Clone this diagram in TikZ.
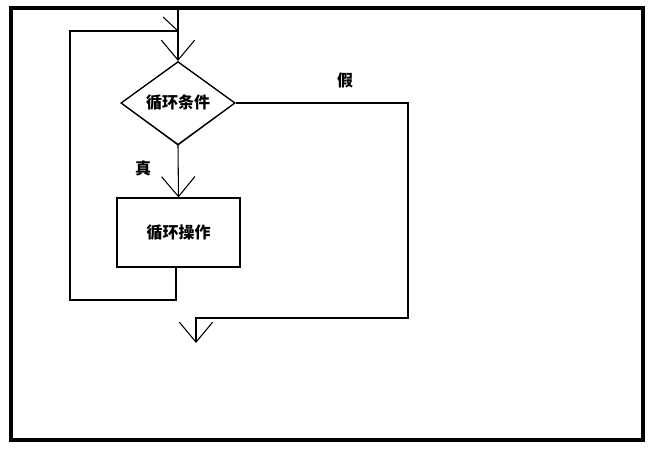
\documentclass[tikz,border=0pt]{standalone}
\usepackage{fontspec}
\setmainfont{Noto Sans CJK SC}
\usepackage{tikz}
\usetikzlibrary{shapes.geometric,arrows.meta}

\begin{document}
\begin{tikzpicture}[x=0.75pt,y=0.75pt,yscale=-1,xscale=1,
  line width=0.8pt,
  vee/.style={-{Straight Barb[length=15pt,width=25pt,line width=0.8pt]}},
  lbl/.style={font=\bfseries\fontsize{12pt}{14pt}\selectfont,inner sep=0.75pt}]
\useasboundingbox (0,0) rectangle (661,453);

%Border
\draw [line width=3pt] (11,8) rectangle (643,440) ;

%Diamond and box
\node [draw,diamond,aspect=1.38,minimum width=114pt*0.75,minimum height=83pt*0.75,inner sep=0pt] (cond) at (178,103) {};
\node [lbl] at (cond.center) {循环条件};
\draw (178,62) -- (121,103) -- (178,145) -- (235,103) -- cycle ;
\node [draw,minimum width=123*0.75pt,minimum height=69*0.75pt,inner sep=0pt] (body) at (178.5,232.5) {};
\node [lbl] at (body.center) {循环操作};

%Connectors
\coordinate (entry) at (178,7) ;
\coordinate (join) at (178,31) ;
\draw [vee] (entry) -- (cond.north) ;
\draw (163,17) -- (join) ;
\draw [vee] (cond.south) -- (body.north) ;
\draw (176,267) -- (176,300) -- (70,300) -- (70,31) -- (join) ;
\coordinate (exit) at (196,343) ;
\draw [vee] (cond.east) -- (408,103) -- (408,318) -- (196,318) -- (exit) ;

% Text Node
\node [lbl] (yes) at (143,168) {真};
% Text Node
\node [lbl] (no) at (345,80) {假};
\end{tikzpicture}
\end{document}
